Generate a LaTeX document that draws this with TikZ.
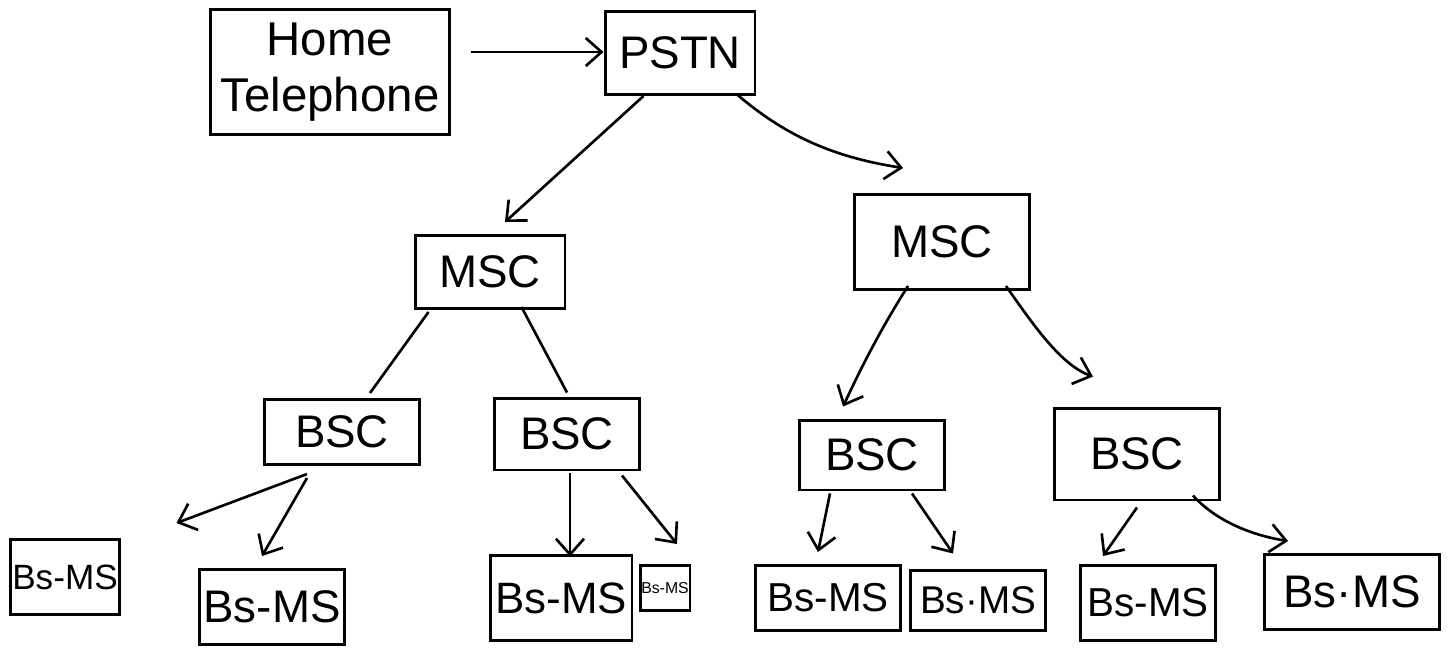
\documentclass[tikz,border=0pt]{standalone}
\usepackage{fontspec}
\setmainfont{Liberation Sans}
\usetikzlibrary{arrows.meta,calc}
\begin{document}
\begin{tikzpicture}[x=0.02cm,y=-0.02cm,
  box/.style 2 args={draw, line width=1.7pt, minimum width=#1, minimum height=#2,
    inner sep=0pt, align=center, font=\fontsize{26}{30}\selectfont},
  link/.style={line width=1.5pt},
  arr/.style={link, -{Straight Barb[length=9pt,width=16pt,line width=1.5pt]}}]
\useasboundingbox (0,0) rectangle (1456,650);
\fill[white] (0,0) rectangle (1456,650);

% top level
\node[box={4.8cm}{2.5cm}, font=\fontsize{27}{32}\selectfont] (ht) at (330,72) {Home\\Telephone};
\node[box={3.0cm}{1.66cm}] (pstn) at (680,53) {PSTN};

% switching centres
\node[box={3.0cm}{1.46cm}] (mscL) at (490,272) {MSC};
\node[box={3.5cm}{1.9cm}] (mscR) at (942,242) {MSC};

% base station controllers
\node[box={3.1cm}{1.3cm}] (bsc1) at (342,432) {BSC};
\node[box={2.9cm}{1.44cm}] (bsc2) at (567,434) {BSC};
\node[box={2.9cm}{1.4cm}] (bsc3) at (872,455) {BSC};
\node[box={3.3cm}{1.84cm}] (bsc4) at (1137,454) {BSC};

% base stations / mobile stations
\node[box={2.2cm}{1.5cm}, font=\fontsize{20}{24}\selectfont] (ms1) at (65,577) {Bs-MS};
\node[box={2.9cm}{1.5cm}] (ms2) at (272,607) {Bs-MS};
\node[box={2.84cm}{1.7cm}, font=\fontsize{25}{30}\selectfont] (ms3) at (561,598) {Bs-MS};
\node[box={1.0cm}{0.9cm}, font=\fontsize{9}{10}\selectfont] (ms4) at (665,588) {Bs-MS};
\node[box={2.9cm}{1.3cm}, font=\fontsize{23}{26}\selectfont] (ms5) at (828,598) {Bs-MS};
\node[box={2.7cm}{1.2cm}, font=\fontsize{22}{26}\selectfont] (ms6) at (978,600) {Bs·MS};
\node[box={2.7cm}{1.5cm}, font=\fontsize{23}{26}\selectfont] (ms7) at (1148,603) {Bs-MS};
\node[box={3.5cm}{1.5cm}] (ms8) at (1352,592) {Bs·MS};

% connections
\draw[arr] (ht.east) ++(20,-20) coordinate (htout) -- (htout -| pstn.west);
\draw[arr] ($(pstn.south west)+(40,0)$) -- ($(mscL.north)+(15,-12)$);
\coordinate (mscRin) at ($(mscR.north west)+(50,-25)$);
\draw[arr] ($(pstn.south east)+(-20,-2)$) .. controls (790,140) and (840,158) .. (mscRin);

\draw[link] ($(mscL.south west)+(15,2)$) -- ($(bsc1.north)+(28,-5)$);
\draw[link] ($(mscL.south east)+(-45,-3)$) -- ($(bsc2.north)+(0,-4)$);
\draw[arr] ($(mscR.south west)+(55,-5)$) .. controls (880,330) and (860,370) .. ($(bsc3.north west)+(45,-12)$);
\draw[arr] ($(mscR.south east)+(-25,-5)$) .. controls (1030,320) and (1060,365) .. ($(bsc4.north west)+(40,-30)$);

\draw[arr] ($(bsc1.south)+(-35,8)$) -- ($(ms1.north east)+(55,-15)$);
\draw[arr] ($(bsc1.south)+(-35,12)$) -- ($(ms2.north)+(-10,-12)$);
\draw[arr] ($(bsc2.south)+(3,2)$) -- ($(bsc2.south)+(3,85)$);
\draw[arr] ($(bsc2.south)+(55,4)$) -- ($(ms4.north)+(12,-20)$);
\draw[arr] ($(bsc3.south)+(-42,2)$) -- ($(ms5.north)+(-10,-12)$);
\draw[arr] ($(bsc3.south)+(40,2)$) -- ($(ms6.north)+(-25,-15)$);
\draw[arr] ($(bsc4.south)+(0,6)$) -- ($(ms7.north)+(-45,-8)$);
\draw[arr] ($(bsc4.south east)+(-28,-6)$) .. controls (1215,520) and (1250,535) .. ($(ms8.north west)+(25,-12)$);
\end{tikzpicture}
\end{document}
